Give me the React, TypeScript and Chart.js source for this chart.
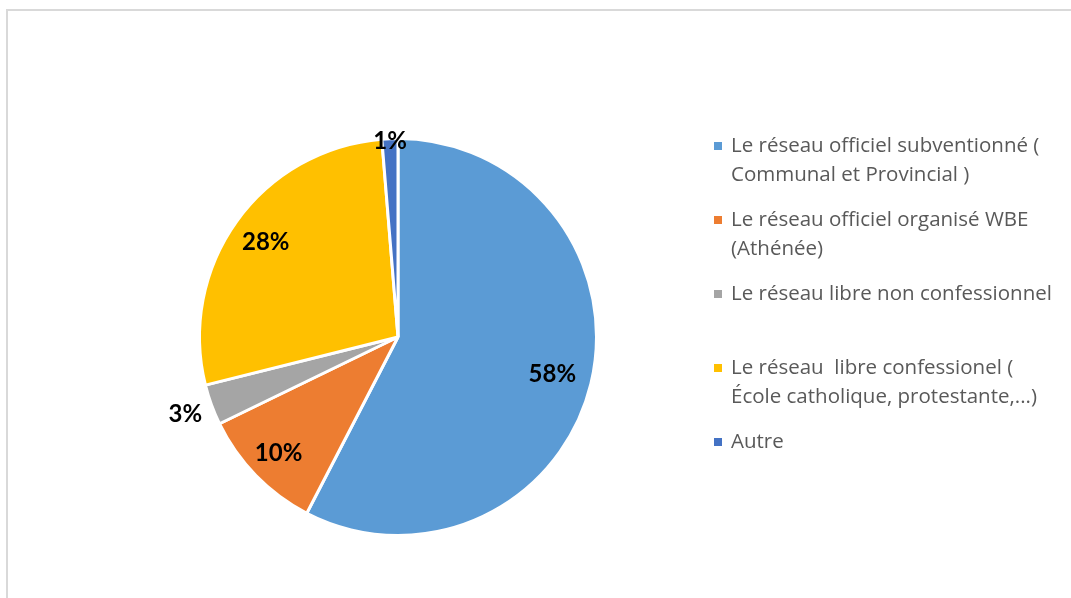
import React, { useEffect, useRef } from "react";
import { Chart, registerables } from "chart.js";

Chart.register(...registerables);

const categories: string[][] = [
  ["Le réseau officiel subventionné (", "Communal et Provincial )"],
  ["Le réseau officiel organisé WBE", "(Athénée)"],
  ["Le réseau libre non confessionnel"],
  ["Le réseau  libre confessionel (", "École catholique, protestante,...)"],
  ["Autre"],
];
const values: number[] = [57.6, 10.2, 3.3, 27.6, 1.3];
const colors: string[] = ["#5B9BD5", "#ED7D31", "#A5A5A5", "#FFC000", "#4472C4"];
const labelRadius: number[] = [0.8, 0.84, 1.14, 0.82, 0.985];

const framePlugin = {
  id: "frame",
  beforeDraw(chart: any) {
    const ctx = chart.ctx;
    ctx.save();
    ctx.fillStyle = "#ffffff";
    ctx.fillRect(0, 0, chart.width, chart.height);
    ctx.strokeStyle = "#d9d9d9";
    ctx.lineWidth = 2;
    ctx.beginPath();
    ctx.moveTo(7, chart.height);
    ctx.lineTo(7, 10);
    ctx.lineTo(chart.width, 10);
    ctx.stroke();
    ctx.restore();
  },
};

const labelsPlugin = {
  id: "pieLabels",
  afterDatasetsDraw(chart: any) {
    const ctx = chart.ctx;
    const meta = chart.getDatasetMeta(0);
    const data: number[] = chart.data.datasets[0].data;
    const total = data.reduce((a, b) => a + b, 0);
    ctx.save();
    ctx.font = "bold 24px Lato";
    ctx.fillStyle = "#000000";
    ctx.textAlign = "center";
    ctx.textBaseline = "middle";
    meta.data.forEach((arc: any, i: number) => {
      const p = arc.getProps(["x", "y", "startAngle", "endAngle", "outerRadius"], true);
      const mid = (p.startAngle + p.endAngle) / 2;
      const r = p.outerRadius * labelRadius[i];
      const x = p.x + Math.cos(mid) * r;
      const y = p.y + Math.sin(mid) * r;
      ctx.fillText(Math.round((data[i] / total) * 100) + "%", x, y);
    });
    ctx.restore();
  },
};

const legendPlugin = {
  id: "customLegend",
  afterDraw(chart: any) {
    const ctx = chart.ctx;
    ctx.save();
    ctx.font = "20.5px 'Open Sans'";
    ctx.textAlign = "left";
    ctx.textBaseline = "alphabetic";
    const x0 = 714;
    const y0 = 152;
    const step = 74;
    const lineH = 29;
    categories.forEach((lines, i) => {
      const by = y0 + i * step;
      ctx.fillStyle = colors[i];
      ctx.fillRect(x0, by - 10, 8, 8);
      ctx.fillStyle = "#595959";
      lines.forEach((t, j) => {
        ctx.fillText(t, x0 + 17, by + j * lineH);
      });
    });
    ctx.restore();
  },
};

export default function App() {
  const ref = useRef<HTMLCanvasElement | null>(null);
  useEffect(() => {
    if (!ref.current) return;
    const chart = new Chart(ref.current, {
      type: "pie",
      data: {
        labels: categories.map((l) => l.join(" ")),
        datasets: [
          {
            data: values,
            backgroundColor: colors,
            borderColor: "#ffffff",
            borderWidth: 3,
          },
        ],
      },
      options: {
        animation: false,
        responsive: false,
        layout: { padding: { left: 198, right: 473, top: 137, bottom: 61 } },
        plugins: {
          legend: { display: false },
          tooltip: { enabled: false },
        },
      },
      plugins: [framePlugin, labelsPlugin, legendPlugin],
    });
    return () => chart.destroy();
  }, []);
  return (
    <div style={{ position: "fixed", left: 0, top: 0, width: 1071, height: 598, background: "#fff" }}>
      <canvas ref={ref} width={1071} height={598} style={{ display: "block" }} />
    </div>
  );
}
